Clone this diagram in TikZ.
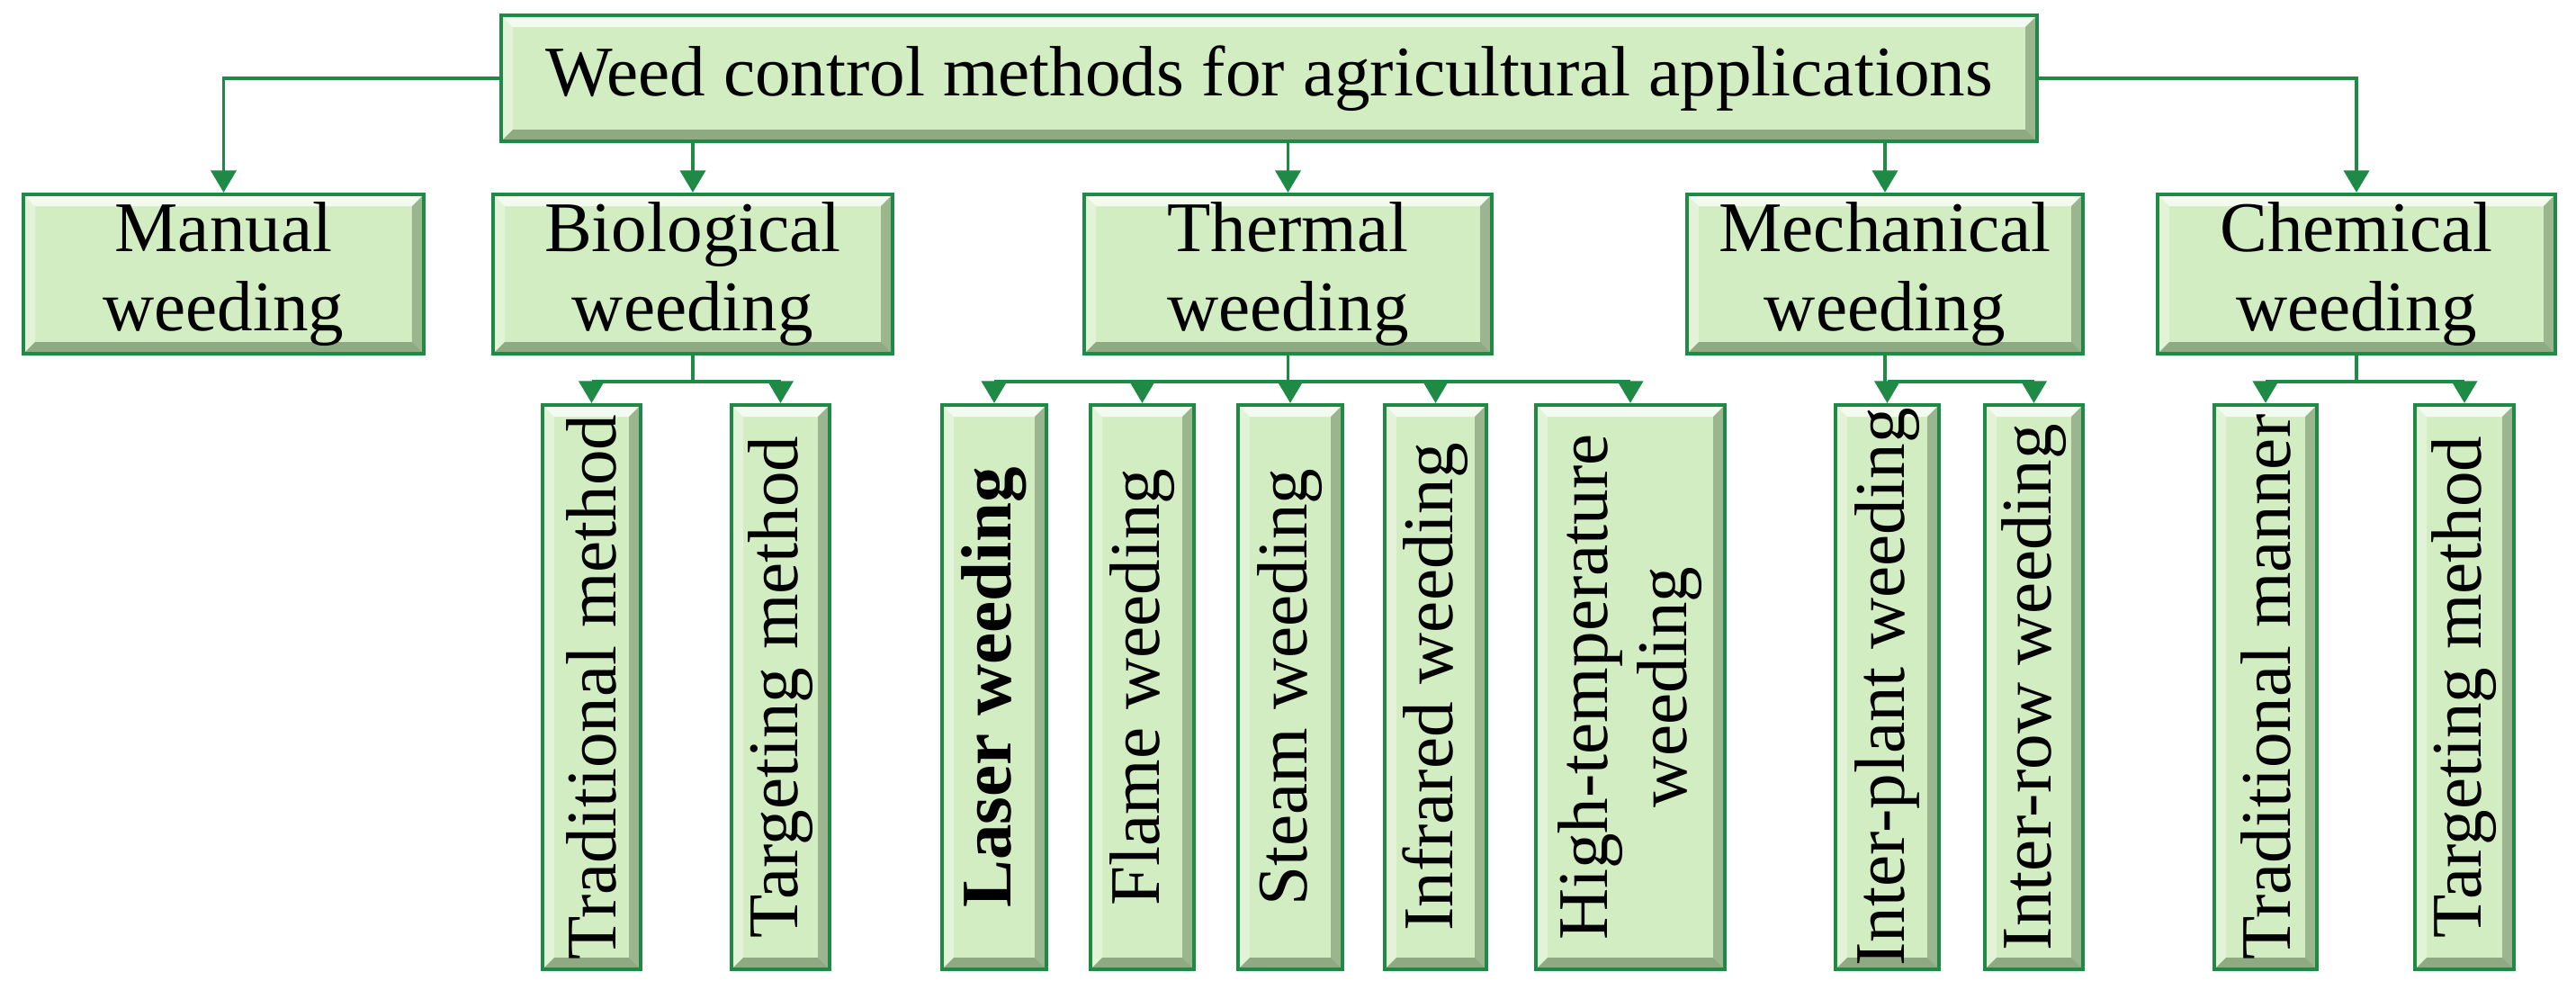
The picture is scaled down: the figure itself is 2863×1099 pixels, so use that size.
\documentclass[tikz,border=0pt]{standalone}
\usepackage{fontspec}
\setmainfont{Liberation Serif}
\usetikzlibrary{arrows.meta,calc}
\definecolor{gline}{HTML}{1E8A45}
\definecolor{gfill}{HTML}{D3EDC3}
\definecolor{gdark}{HTML}{7E9A72}
\tikzset{
 bev/.style={draw=gline, line width=1.2pt, fill=gfill, inner sep=0pt, path picture={
  \def\pb{path picture bounding box}
  \fill[white,opacity=.75] (\pb.north west) -- (\pb.north east) -- ([shift={(-0.13cm,-0.13cm)}]\pb.north east) -- ([shift={(0.13cm,-0.13cm)}]\pb.north west) -- cycle;
  \fill[white,opacity=.35] (\pb.north west) -- (\pb.south west) -- ([shift={(0.13cm,0.13cm)}]\pb.south west) -- ([shift={(0.13cm,-0.13cm)}]\pb.north west) -- cycle;
  \fill[gdark,opacity=.8] (\pb.south west) -- (\pb.south east) -- ([shift={(-0.13cm,0.13cm)}]\pb.south east) -- ([shift={(0.13cm,0.13cm)}]\pb.south west) -- cycle;
  \fill[gdark,opacity=.65] (\pb.north east) -- (\pb.south east) -- ([shift={(-0.13cm,0.13cm)}]\pb.south east) -- ([shift={(-0.13cm,-0.13cm)}]\pb.north east) -- cycle;
 }},
 lbl/.style={font=\fontsize{22.5}{25}\selectfont, align=center},
 conn/.style={draw=gline, line width=1.1pt},
 arr/.style={conn, -{Triangle[length=7pt,width=8pt]}},
}
\newcommand\bx[6]{\node[bev, minimum width={(#4-#2)*0.01cm}, minimum height={(#5-#3)*0.01cm}] (#1) at ({(#2+#4)/2},{(#3+#5)/2}) {}; \node[lbl] at (#1.center) {#6};}
\newcommand\vbx[6]{\node[bev, minimum width={(#4-#2)*0.01cm}, minimum height={(#5-#3)*0.01cm}] (#1) at ({(#2+#4)/2},{(#3+#5)/2}) {}; \node[lbl, rotate=90] at (#1.center) {#6};}
\begin{document}
\begin{tikzpicture}[x=0.01cm,y=-0.01cm]
\useasboundingbox (0,0) rectangle (2863,1099);
\bx{top}{557}{17}{2264}{157}{Weed control methods for agricultural applications}
\bx{man}{26}{216}{471}{393}{Manual\\weeding}
\bx{bio}{548}{216}{992}{393}{Biological\\weeding}
\bx{the}{1205}{216}{1658}{393}{Thermal\\weeding}
\bx{mec}{1875}{216}{2315}{393}{Mechanical\\weeding}
\bx{che}{2398}{216}{2840}{393}{Chemical\\weeding}
\vbx{b1}{603}{450}{712}{1077}{Traditional method}
\vbx{b2}{813}{450}{922}{1077}{Targeting method}
\vbx{t1}{1047}{450}{1163}{1077}{\textbf{Laser weeding}}
\vbx{t2}{1212}{450}{1327}{1077}{Flame weeding}
\vbx{t3}{1376}{450}{1492}{1077}{Steam weeding}
\vbx{t4}{1539}{450}{1652}{1077}{Infrared weeding}
\vbx{t5}{1707}{450}{1917}{1077}{High-temperature\\weeding}
\vbx{m1}{2040}{450}{2155}{1077}{Inter-plant weeding}
\vbx{m2}{2206}{450}{2315}{1077}{Inter-row weeding}
\vbx{c1}{2461}{450}{2575}{1077}{Traditional manner}
\vbx{c2}{2684}{450}{2794}{1077}{Targeting method}
% top level
\draw[arr] (top.west) -| (man.north);
\draw[arr] (top.east) -| (che.north);
\draw[arr] (top.south -| bio.north) -- (bio.north);
\draw[arr] (top.south -| the.north) -- (the.north);
\draw[arr] (top.south -| mec.north) -- (mec.north);
% buses
\foreach \p/\a/\b in {bio/b1/b2, the/t1/t5, mec/m1/m2, che/c1/c2}{
 \coordinate (\p bus) at ($(\p.south)+(0,29)$);
 \draw[conn] (\p.south) -- (\p bus);
 \draw[conn] (\p bus -| \a.north) -- (\p bus -| \b.north);
}
\foreach \p/\c in {bio/b1,bio/b2,the/t1,the/t2,the/t3,the/t4,the/t5,mec/m1,mec/m2,che/c1,che/c2}{
 \draw[arr] (\p bus -| \c.north) -- (\c.north);
}
\end{tikzpicture}
\end{document}
